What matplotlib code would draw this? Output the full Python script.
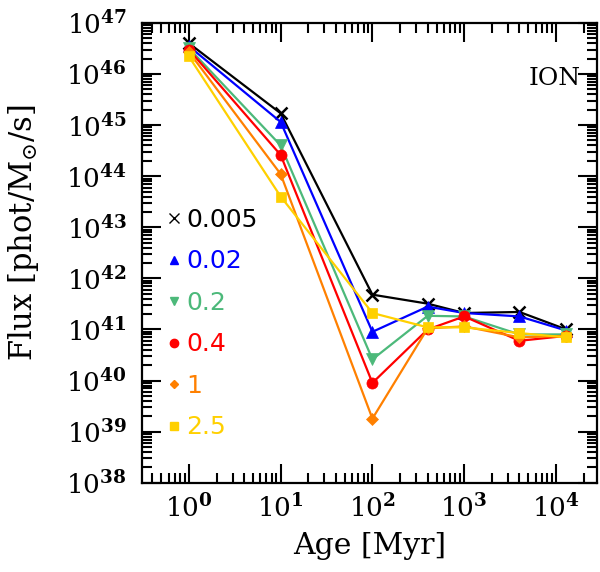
import math
import matplotlib
matplotlib.use("Agg")
import matplotlib.pyplot as plt
from matplotlib.lines import Line2D
from matplotlib.ticker import LogLocator, FuncFormatter, NullFormatter

plt.rcParams["font.family"] = "DejaVu Serif"
plt.rcParams["mathtext.fontset"] = "dejavuserif"

# ages in Myr
age = [1, 10, 100, 400, 1000, 4000, 13000]

# ionising photon flux per solar mass for each metallicity
flux_0005 = [4.0e46, 1.7e45, 4.8e41, 3.2e41, 2.1e41, 2.2e41, 1.0e41]
flux_002 = [3.5e46, 1.15e45, 9.0e40, 2.8e41, 2.1e41, 1.8e41, 9.5e40]
flux_02 = [3.2e46, 4.0e44, 2.6e40, 1.85e41, 1.8e41, 8.0e40, 8.0e40]
flux_04 = [3.0e46, 2.6e44, 9.0e39, 1.0e41, 1.8e41, 6.0e40, 7.5e40]
flux_1 = [2.7e46, 1.1e44, 1.8e39, 1.05e41, 1.15e41, 7.0e40, 7.5e40]
flux_25 = [2.2e46, 4.0e43, 2.1e41, 1.1e41, 1.1e41, 8.5e40, 7.0e40]

labels = ["0.005", "0.02", "0.2", "0.4", "1", "2.5"]
series = [flux_0005, flux_002, flux_02, flux_04, flux_1, flux_25]
colors = ["black", "#0000ff", "#4cb97a", "#ff0000", "#ff8000", "#ffd000"]
markers = ["x", "^", "v", "o", "D", "s"]
msizes = [9, 8, 8, 8, 6, 7]

fig = plt.figure(figsize=(6.0, 5.72), dpi=100)
ax = fig.add_axes([0.237, 0.156, 0.758, 0.804])

for y, c, m, ms in zip(series, colors, markers, msizes):
    ax.plot(age, y, color=c, marker=m, ms=ms, lw=1.6, mew=1.8 if m == "x" else 0.5)

ax.set_xscale("log")
ax.set_yscale("log")
ax.set_xlim(0.31, 2.8e4)
ax.set_ylim(1e38, 1e47)

ax.xaxis.set_major_locator(LogLocator(base=10, numticks=20))
ax.yaxis.set_major_locator(LogLocator(base=10, numticks=20))
ax.xaxis.set_minor_locator(LogLocator(base=10, subs=range(2, 10), numticks=50))
ax.yaxis.set_minor_locator(LogLocator(base=10, subs=range(2, 10), numticks=50))
fmt = FuncFormatter(lambda v, p: r"$10^{\mathbf{%d}}$" % round(math.log10(v)))
ax.xaxis.set_major_formatter(fmt)
ax.yaxis.set_major_formatter(fmt)
ax.xaxis.set_minor_formatter(NullFormatter())
ax.yaxis.set_minor_formatter(NullFormatter())

ax.tick_params(which="both", direction="in", top=True, right=True, width=1.5)
ax.tick_params(which="major", length=14, labelsize=19)
ax.tick_params(axis="y", which="major", pad=11)
ax.tick_params(axis="x", which="major", pad=8)
ax.tick_params(which="minor", length=7)
for s in ax.spines.values():
    s.set_linewidth(1.6)

ax.set_xlabel("Age [Myr]", fontsize=21.5)
ax.set_ylabel(r"Flux [phot/M$_{\odot}$/s]", fontsize=22)
ax.xaxis.set_label_coords(0.5, -0.108)
ax.yaxis.set_label_coords(-0.222, 0.545)

ax.text(0.965, 0.88, "ION", transform=ax.transAxes, fontsize=18,
        ha="right", va="center")

handles = [Line2D([], [], color=c, marker=m, ls="none", ms=ms * 0.75)
           for c, m, ms in zip(colors, markers, msizes)]
leg = ax.legend(handles, labels, loc="upper left", bbox_to_anchor=(0.025, 0.625),
                frameon=False, handlelength=0.6, handletextpad=0.2,
                labelspacing=0.7, borderpad=0,
                prop={"family": "DejaVu Sans", "size": 18}, labelcolor=colors)

fig.savefig("out.png", dpi=100)
